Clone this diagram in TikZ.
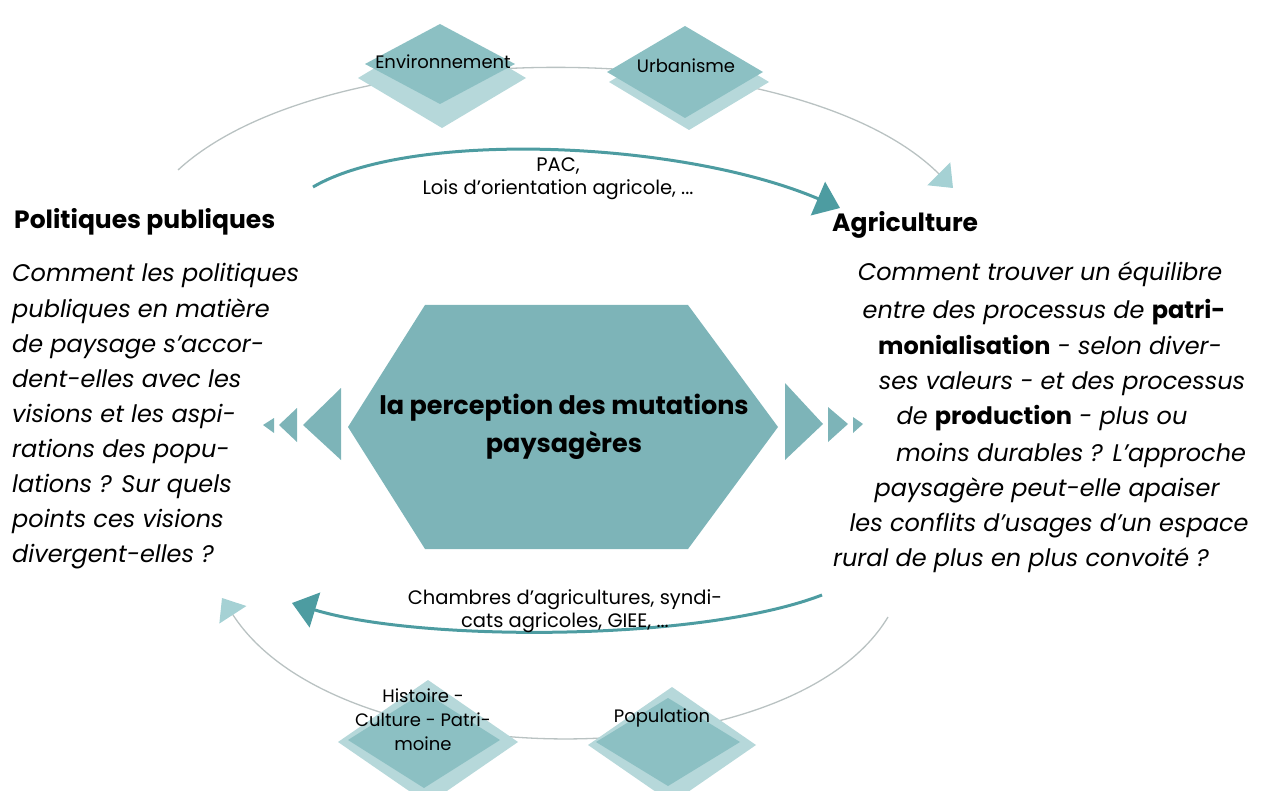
\documentclass[tikz,border=0pt]{standalone}
\usepackage{fontspec}
\setmainfont{Poppins}
\usetikzlibrary{arrows.meta}
\definecolor{hexteal}{HTML}{7DB4B8}
\definecolor{rhfront}{HTML}{8CC0C3}
\definecolor{rhback}{HTML}{B6D8DA}
\definecolor{darkteal}{HTML}{4D9CA1}
\definecolor{lightline}{HTML}{B9C2C2}
\definecolor{lighthead}{HTML}{A5D1D4}
\newcommand\gras[1]{\textbf{\upshape #1}}
\begin{document}
\begin{tikzpicture}[x=1pt, y=-1pt,
    lbl/.style = {font=\fontsize{18}{24}\selectfont, align=center, inner sep=0pt},
    fl/.style = {font=\fontsize{19.5}{22.5}\selectfont, align=center, inner sep=0pt},
    titre/.style = {font=\fontsize{25}{28}\selectfont\bfseries, anchor=west, inner sep=0pt},
    ligne/.style = {font=\fontsize{24}{28}\selectfont\itshape, inner sep=0pt},
    fleche/.style = {line width=3pt, darkteal, -{Triangle[length=24pt, width=36pt]}},
    boucle/.style = {line width=1.3pt, lightline, -{Triangle[length=20pt, width=32pt, color=lighthead]}}
                    ]
        \useasboundingbox (0,0) rectangle (1265,791);
        % outer light loops (behind the diamonds)
        \coordinate (hautD) at (178,170);
        \coordinate (hautA) at (953,188);
        \coordinate (basD) at (888,617);
        \coordinate (basA) at (222,598);
        \draw[boucle] (hautD) .. controls (330,30) and (800,35) .. (hautA);
        \draw[boucle] (basD) .. controls (790,780) and (340,780) .. (basA);
        % diamonds: front x/y/w/h, back x/y/w/h
        \foreach \x/\y/\w/\h/\bx/\by/\bw/\bh in {440/64/75/40/442/78/84/50, 685/72/78/46/689/82/80/48,
                                                 424/740/76/48/428/742/90/62, 668/742/72/44/672/745/84/58}
        {
            \fill[rhback] (\bx-\bw,\by) -- (\bx,\by-\bh) -- (\bx+\bw,\by) -- (\bx,\by+\bh) -- cycle;
            \fill[rhfront] (\x-\w,\y) -- (\x,\y-\h) -- (\x+\w,\y) -- (\x,\y+\h) -- cycle;
        }
        \node[lbl] (env) at (443,62) {Environnement};
        \node[lbl] (urb) at (686,66) {Urbanisme};
        \node[lbl] (hist) at (423,720) {Histoire -\\Culture - Patri-\\moine};
        \node[lbl] (pop) at (662,718) {Population};
        % centre
        \fill[hexteal] (348,427) -- (425,305) -- (688,305) -- (778,427) -- (688,549) -- (425,549) -- cycle;
        \node[font=\fontsize{25.5}{38}\selectfont\bfseries, align=center, inner sep=0pt] (coeur) at (564,427)
            {la perception des mutations\\paysagères};
        \foreach \a/\b/\c/\d in {263/274/418/433, 279/297/408/442, 303/341/388/460}
            \fill[hexteal] (\a,425) -- (\b,\c) -- (\b,\d) -- cycle;
        \foreach \a/\b/\c/\d in {823/785/383/460, 848/828/407/442, 863/853/417/433}
            \fill[hexteal] (\a,424) -- (\b,\c) -- (\b,\d) -- cycle;
        % inner dark arrows
        \coordinate (pacD) at (313,187);
        \coordinate (pacA) at (840,208);
        \coordinate (chD) at (822,595);
        \coordinate (chA) at (292,603);
        \draw[fleche] (pacD) .. controls (410,130) and (680,140) .. (pacA);
        \draw[fleche] (chD) .. controls (700,642) and (420,642) .. (chA);
        \node[fl] (pac) at (558,179) {PAC,\\Lois d'orientation agricole, ...};
        \node[fl] (cham) at (565,611) {Chambres d'agricultures, syndi-\\cats agricoles, GIEE, ...};
        % texts
        \node[titre] (pol) at (14,222) {Politiques publiques};
        \node[titre] (agri) at (832,225) {Agriculture};
        \foreach \t [count=\i] in {Comment les politiques, publiques en matière, de paysage s'accor-,
                                   dent-elles avec les, visions et les aspi-, rations des popu-,
                                   lations ? Sur quels, points ces visions, divergent-elles ?}
            \node[ligne, anchor=base west] (gauche\i) at (12,247+35*\i) {\t};
        \foreach \cx/\cy/\t [count=\i] in {1040/281/{Comment trouver un équilibre},
                                           1044/319/{entre des processus de \gras{patri-}},
                                           1050/354/{\gras{monialisation} - selon diver-},
                                           1062/389/{ses valeurs - et des processus},
                                           1042/424/{de \gras{production} - plus ou},
                                           1071/461/{moins durables ? L'approche},
                                           1047/496/{paysagère peut-elle apaiser},
                                           1049/531/{les conflits d'usages d'un espace},
                                           1021/566/{rural de plus en plus convoité ?}}
            \node[ligne, anchor=base] (droite\i) at (\cx,\cy) {\t};
\end{tikzpicture}
\end{document}
